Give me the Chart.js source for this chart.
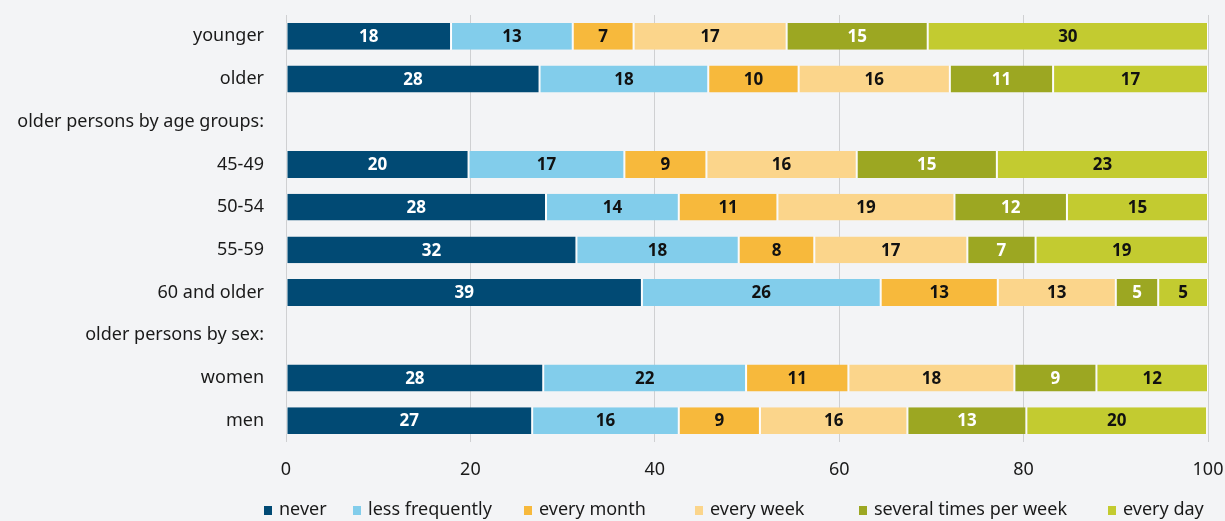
<!DOCTYPE html>
<html>
<head>
<meta charset="utf-8">
<script src="https://cdn.jsdelivr.net/npm/chart.js@4/dist/chart.umd.min.js"></script>
<style>
  html, body { margin: 0; padding: 0; background: #f3f4f6; }
  #wrap { width: 1225px; height: 521px; }
</style>
</head>
<body>
<div id="wrap"><canvas id="chart" width="1225" height="521"></canvas></div>
<script>
// categories (empty rows are the group headings)
const categories = ['younger', 'older', 'older persons by age groups:', '45-49', '50-54', '55-59', '60 and older', 'older persons by sex:', 'women', 'men'];

// shares in percent
const never = [17.9, 27.5, null, 19.8, 28.2, 31.5, 38.6, null, 27.9, 26.7];
const lessFrequently = [13.2, 18.3, null, 16.9, 14.4, 17.6, 25.9, null, 22.0, 15.9];
const everyMonth = [6.6, 9.8, null, 8.9, 10.7, 8.2, 12.7, null, 11.1, 8.8];
const everyWeek = [16.6, 16.4, null, 16.3, 19.2, 16.6, 12.8, null, 18.0, 16.0];
const severalPerWeek = [15.3, 11.2, null, 15.2, 12.2, 7.4, 4.6, null, 8.9, 12.9];
const everyDay = [30.4, 16.8, null, 22.9, 15.3, 18.7, 5.4, null, 12.1, 19.6];

const xTicks = [0, 20, 40, 60, 80, 100];

const FONT = "'Noto Sans', sans-serif";

const series = [
  { label: 'never', data: never, color: '#014a74', text: '#ffffff' },
  { label: 'less frequently', data: lessFrequently, color: '#82cdeb', text: '#111111' },
  { label: 'every month', data: everyMonth, color: '#f7b93c', text: '#111111' },
  { label: 'every week', data: everyWeek, color: '#fbd58b', text: '#111111' },
  { label: 'several times per week', data: severalPerWeek, color: '#9ca722', text: '#ffffff' },
  { label: 'every day', data: everyDay, color: '#c3cb30', text: '#111111' }
];

// where each legend entry starts (the original spacing is uneven)
const legendX = [264, 353, 524, 695, 859, 1108];

// draws the rounded value in the middle of each segment
const barLabels = {
  id: 'barLabels',
  afterDatasetsDraw(chart) {
    const ctx = chart.ctx;
    ctx.save();
    ctx.font = 'bold 17px ' + FONT;
    ctx.textAlign = 'center';
    ctx.textBaseline = 'middle';
    chart.data.datasets.forEach((ds, i) => {
      const meta = chart.getDatasetMeta(i);
      meta.data.forEach((el, j) => {
        const v = ds.data[j];
        if (v == null) return;
        ctx.fillStyle = series[i].text;
        ctx.fillText(Math.round(v), (el.x + el.base) / 2, el.y + 1);
      });
    });
    ctx.restore();
  }
};

// legend row along the bottom
const bottomLegend = {
  id: 'bottomLegend',
  afterDraw(chart) {
    const ctx = chart.ctx;
    const y = 510;
    ctx.save();
    ctx.font = '18px ' + FONT;
    ctx.textBaseline = 'middle';
    ctx.textAlign = 'left';
    chart.data.datasets.forEach((ds, i) => {
      const x = legendX[i];
      ctx.fillStyle = ds.backgroundColor;
      ctx.fillRect(x, y - 4, 8, 9);
      ctx.fillStyle = '#1a1a1a';
      ctx.fillText(ds.label, x + 15, y);
    });
    ctx.restore();
  }
};

new Chart(document.getElementById('chart'), {
  type: 'bar',
  data: {
    labels: categories,
    datasets: series.map(s => ({
      label: s.label,
      data: s.data,
      backgroundColor: s.color,
      borderColor: '#ffffff',
      borderWidth: { left: 1, right: 1, top: 0, bottom: 0 },
      borderSkipped: false,
      barPercentage: 0.63,
      categoryPercentage: 1
    }))
  },
  options: {
    indexAxis: 'y',
    responsive: false,
    animation: false,
    layout: { padding: { top: 15, right: 17, left: 0, bottom: 34 } },
    scales: {
      x: {
        stacked: true,
        min: 0,
        max: 100,
        afterBuildTicks: axis => { axis.ticks = xTicks.map(v => ({ value: v })); },
        afterFit: axis => { axis.height = 45; axis.paddingLeft = 0; axis.paddingRight = 0; },
        grid: { color: '#cfd0d2', lineWidth: 1, drawTicks: false },
        border: { display: false },
        ticks: { color: '#1a1a1a', font: { family: FONT, size: 18 }, padding: 17 }
      },
      y: {
        stacked: true,
        afterFit: axis => { axis.width = 286; axis.paddingTop = 0; axis.paddingBottom = 0; },
        grid: { display: false },
        border: { display: false },
        ticks: { color: '#1a1a1a', font: { family: FONT, size: 18 }, padding: 14 }
      }
    },
    plugins: {
      legend: { display: false },
      tooltip: { enabled: false }
    }
  },
  plugins: [barLabels, bottomLegend]
});
</script>
</body>
</html>
